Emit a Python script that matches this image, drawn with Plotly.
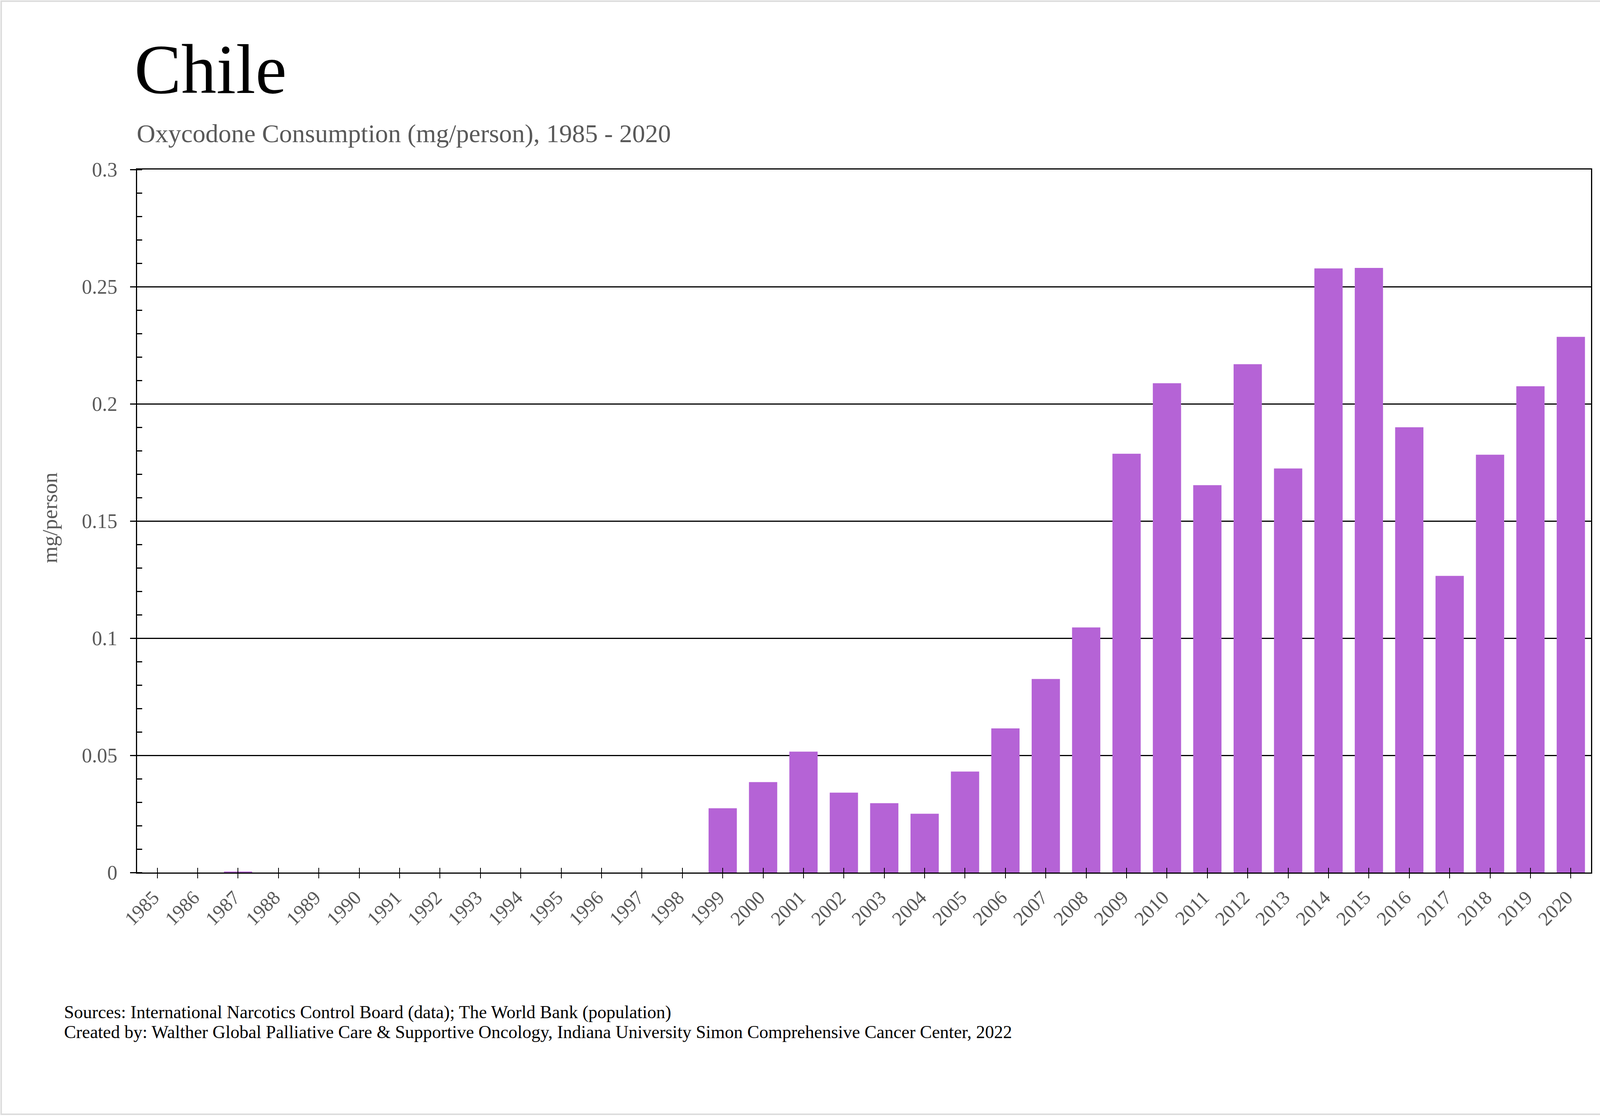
import plotly.graph_objects as go

years = ["1985", "1986", "1987", "1988", "1989", "1990", "1991", "1992", "1993",
         "1994", "1995", "1996", "1997", "1998", "1999", "2000", "2001", "2002",
         "2003", "2004", "2005", "2006", "2007", "2008", "2009", "2010", "2011",
         "2012", "2013", "2014", "2015", "2016", "2017", "2018", "2019", "2020"]
values = [0, 0, 0.0004, 0, 0, 0, 0, 0, 0,
          0, 0, 0, 0, 0, 0.0274, 0.0386, 0.0516, 0.0341,
          0.0296, 0.0251, 0.0431, 0.0615, 0.0826, 0.1046, 0.1787, 0.2088, 0.1653,
          0.2169, 0.1724, 0.2578, 0.2580, 0.1900, 0.1266, 0.1783, 0.2075, 0.2286]

title_text = "Chile"
subtitle_text = "Oxycodone Consumption (mg/person), 1985 - 2020"
y_title = "mg/person"
footer_lines = ["Sources: International Narcotics Control Board (data); The World Bank (population)",
                "Created by: Walther Global Palliative Care &amp; Supportive Oncology, Indiana University Simon Comprehensive Cancer Center, 2022"]

W, H = 4221, 2860
L, R, T, B = 351, 4073, 434, 2234
PW, PH = R - L, B - T


def px(x):
    return (x - L) / PW


def py(y):
    return (B - y) / PH


FONT = "Liberation Serif, Times New Roman, serif"
GRAY = "#595959"
BAR = "#B563D6"

fig = go.Figure()
fig.add_trace(go.Bar(x=years, y=values, marker=dict(color=BAR, line=dict(width=0)),
                     showlegend=False))
# helper trace to draw inside half of the crossing x ticks
fig.add_trace(go.Scatter(x=years, y=[0] * len(years), xaxis="x2", mode="markers",
                         marker=dict(opacity=0), hoverinfo="skip", showlegend=False))

fig.update_layout(
    width=W, height=H,
    margin=dict(l=L, r=W - R, t=T, b=H - B),
    paper_bgcolor="white", plot_bgcolor="white",
    bargap=0.30,
    font=dict(family=FONT, color=GRAY),
    xaxis=dict(type="category", categoryorder="array", categoryarray=years,
               range=[-0.5, 35.5],
               showline=True, linecolor="black", linewidth=3, mirror=True,
               ticks="outside", ticklen=12, tickwidth=2, tickcolor="black",
               tickangle=-45, tickfont=dict(family=FONT, size=50, color=GRAY),
               ticklabelshift=-10,
               showgrid=False, zeroline=False),
    xaxis2=dict(type="category", categoryorder="array", categoryarray=years,
                range=[-0.5, 35.5], overlaying="x", anchor="y", side="bottom",
                showline=False, ticks="inside", ticklen=12, tickwidth=2, tickcolor="black",
                showticklabels=False, showgrid=False, zeroline=False),
    yaxis=dict(range=[0, 0.3], dtick=0.05, tick0=0,
               showline=True, linecolor="black", linewidth=3, mirror=True,
               ticks="outside", ticklen=15, tickwidth=2.5, tickcolor="black",
               tickfont=dict(family=FONT, size=52, color=GRAY),
               ticklabelstandoff=22,
               showgrid=True, gridcolor="black", gridwidth=2.5,
               zeroline=False,
               minor=dict(ticks="inside", dtick=0.01, ticklen=13, tickwidth=2.5,
                          tickcolor="black", showgrid=False)),
)

annotations = [
    dict(text=title_text, x=px(342), y=py(178), xanchor="left", yanchor="middle",
         font=dict(family=FONT, size=180, color="black")),
    dict(text=subtitle_text, x=px(348), y=py(342), xanchor="left", yanchor="middle",
         font=dict(family=FONT, size=66, color=GRAY)),
    dict(text=y_title, x=px(127), y=py(1326), xanchor="center", yanchor="middle",
         textangle=-90, font=dict(family=FONT, size=55, color=GRAY)),
    dict(text=footer_lines[0], x=px(162), y=py(2591), xanchor="left", yanchor="middle",
         font=dict(family=FONT, size=46, color="black")),
    dict(text=footer_lines[1], x=px(162), y=py(2642), xanchor="left", yanchor="middle",
         font=dict(family=FONT, size=46, color="black")),
]
for a in annotations:
    a.update(xref="paper", yref="paper", showarrow=False)
fig.update_layout(annotations=annotations)

fig.add_shape(type="rect", xref="paper", yref="paper",
              x0=px(3), x1=px(4213), y0=py(2853), y1=py(3),
              line=dict(color="#DDDDDD", width=4), fillcolor="rgba(0,0,0,0)", layer="below")

fig.write_html("out.html", config={"displayModeBar": False},
               post_script="document.body.style.margin='0';document.body.style.padding='0';")
